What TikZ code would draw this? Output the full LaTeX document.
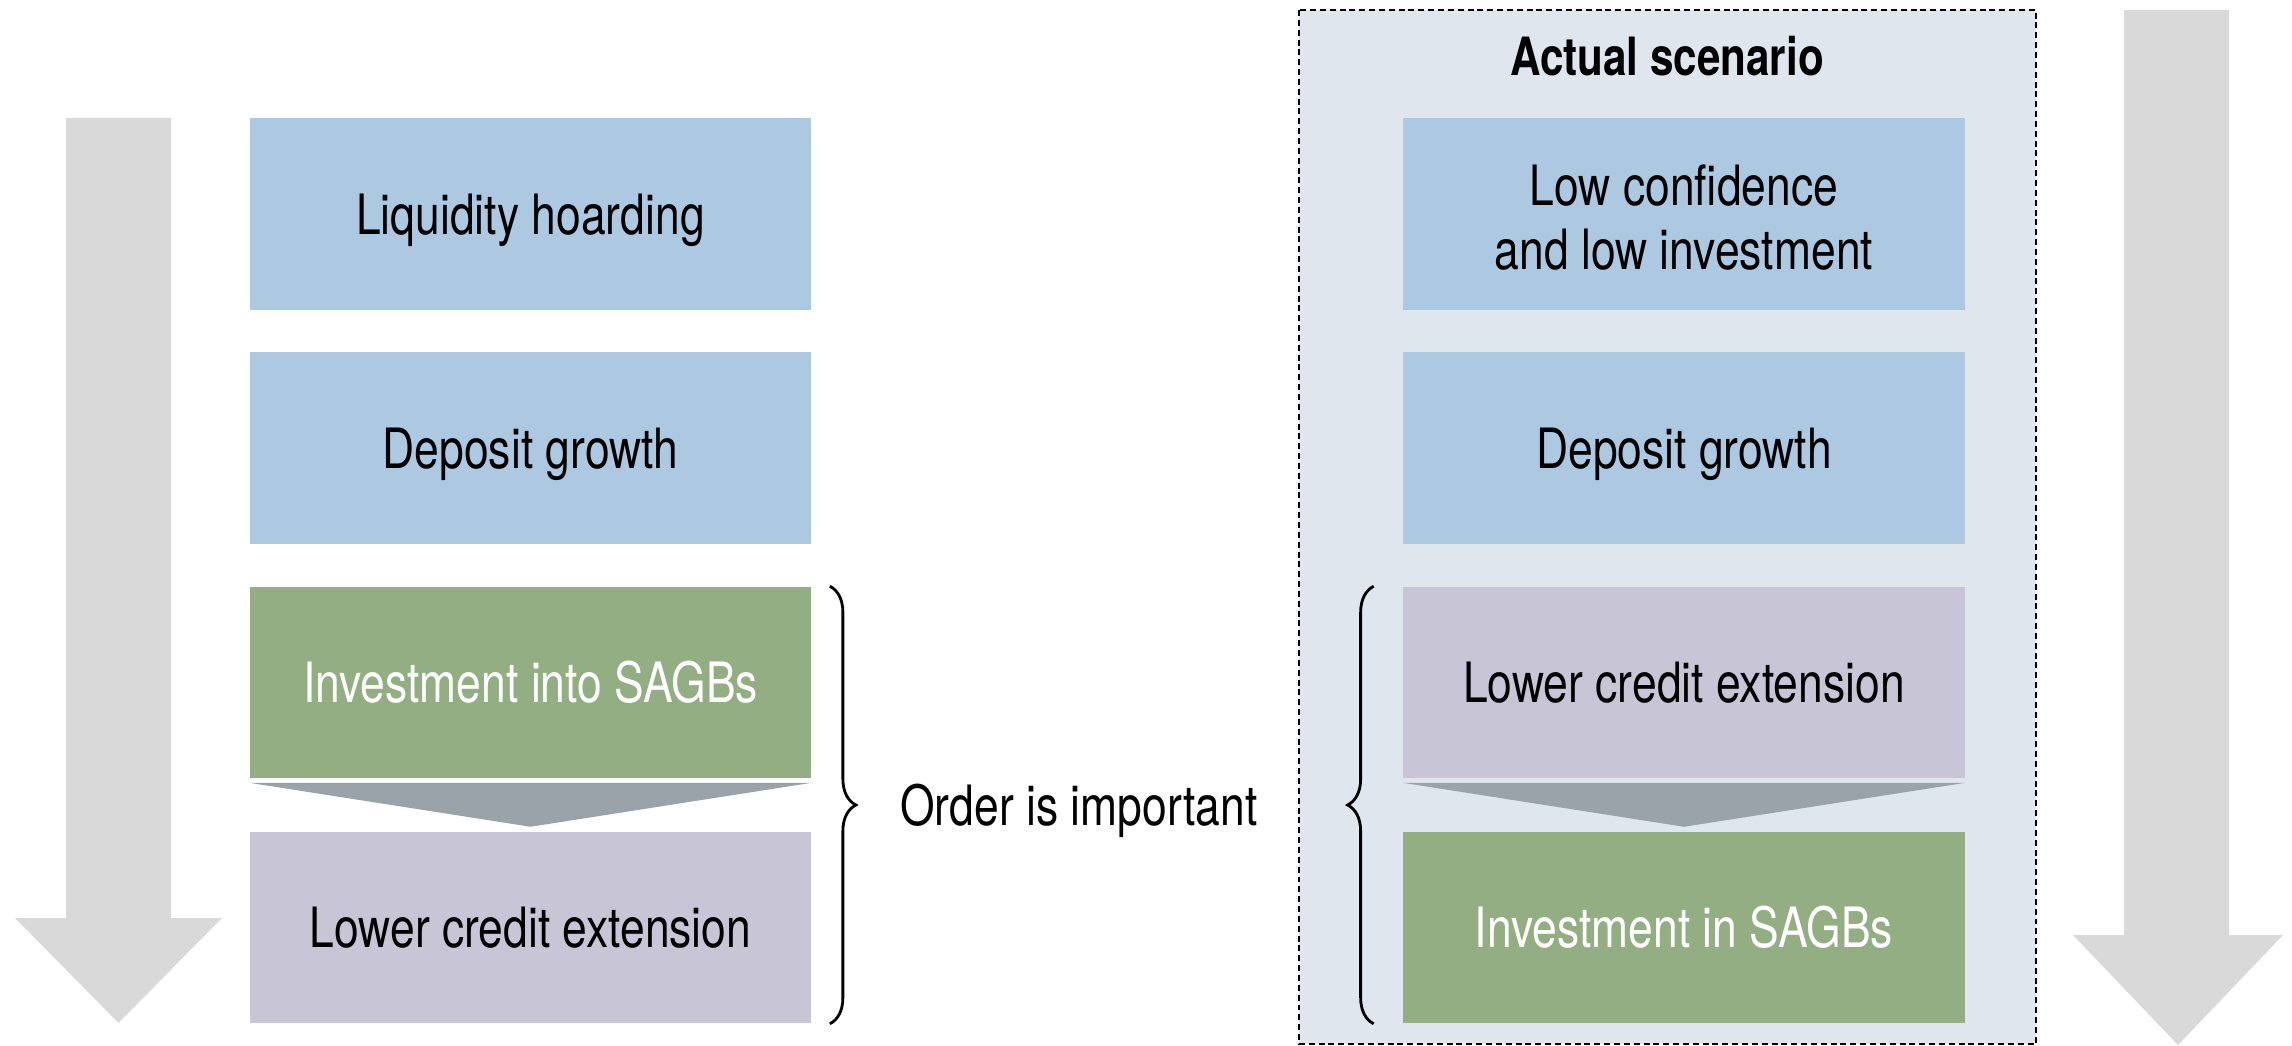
\documentclass[tikz,border=0pt]{standalone}
\usepackage{fontspec}
\setmainfont{TeX Gyre Heros}[FakeStretch=0.8]
\usepackage{tikz}
\usetikzlibrary{positioning,calc,decorations.pathreplacing}

\definecolor{stageblue}{RGB}{173,200,225}
\definecolor{stagegreen}{RGB}{147,174,131}
\definecolor{stagelilac}{RGB}{200,198,214}
\definecolor{chevgrey}{RGB}{153,163,169}
\definecolor{flowgrey}{RGB}{217,217,217}
\definecolor{panelbg}{RGB}{223,230,238}

\begin{document}
\begin{tikzpicture}[x=0.01cm, y=-0.01cm,
        stage/.style={minimum width=5.61cm, minimum height=1.91cm, inner sep=0pt,
            align=center, text height=0.4cm, text depth=0pt, font=\fontsize{15.8}{18}\selectfont},
        chev/.style={fill=chevgrey},
        brc/.style={decorate, decoration={brace, amplitude=0.26cm}, line width=0.8pt}]

        \useasboundingbox (0,0) rectangle (2292,1046);

        % Panel (actual scenario)
        \draw[fill=panelbg, line width=0.5pt, dash pattern=on 1.7pt off 1.1pt] (1299,10) rectangle (2036,1044);
        \node[font=\bfseries\fontsize{15}{18}\selectfont] (title) at (1667,56) {Actual scenario};

        % Big down arrows
        \fill[flowgrey] (66,118) -- (171,118) -- (171,918) -- (222,918) -- (118.5,1023) -- (15,918) -- (66,918) -- cycle;
        \fill[flowgrey] (2124,10) -- (2229,10) -- (2229,935) -- (2283,935) -- (2178,1045) -- (2073,935) -- (2124,935) -- cycle;

        % Left column
        \node[stage, fill=stageblue] (liq) at (530.5,214) {Liquidity hoarding};
        \node[stage, fill=stageblue] (dep) at (530.5,448) {Deposit growth};
        \node[stage, fill=stagegreen, text=white] (inv) at (530.5,682.5) {Investment into SAGBs};
        \node[stage, fill=stagelilac] (low) at (530.5,927.5) {Lower credit extension};
        \fill[chev] ($(inv.south west)+(0,4)$) -- ($(inv.south east)+(0,4)$) -- ($(inv.south)+(0,48)$) -- cycle;

        % Right column
        \node[stage, fill=stageblue, text height=1.1cm] (rconf) at (1684,214) {Low confidence\\and low investment};
        \node[stage, fill=stageblue] (rdep) at (1684,448) {Deposit growth};
        \node[stage, fill=stagelilac] (rlow) at (1684,682.5) {Lower credit extension};
        \node[stage, fill=stagegreen, text=white] (rinv) at (1684,927.5) {Investment in SAGBs};
        \fill[chev] ($(rlow.south west)+(0,4)$) -- ($(rlow.south east)+(0,4)$) -- ($(rlow.south)+(0,48)$) -- cycle;

        % Braces
        \draw[brc] ($(inv.north east)+(18,0)$) -- ($(low.south east)+(18,0)$);
        \draw[brc] ($(rinv.south west)+(-29,0)$) -- ($(rlow.north west)+(-29,0)$);

        \node[font=\fontsize{15.8}{18}\selectfont, text height=0.4cm, text depth=0pt] (order) at (1079,805) {Order is important};
    \end{tikzpicture}
\end{document}
